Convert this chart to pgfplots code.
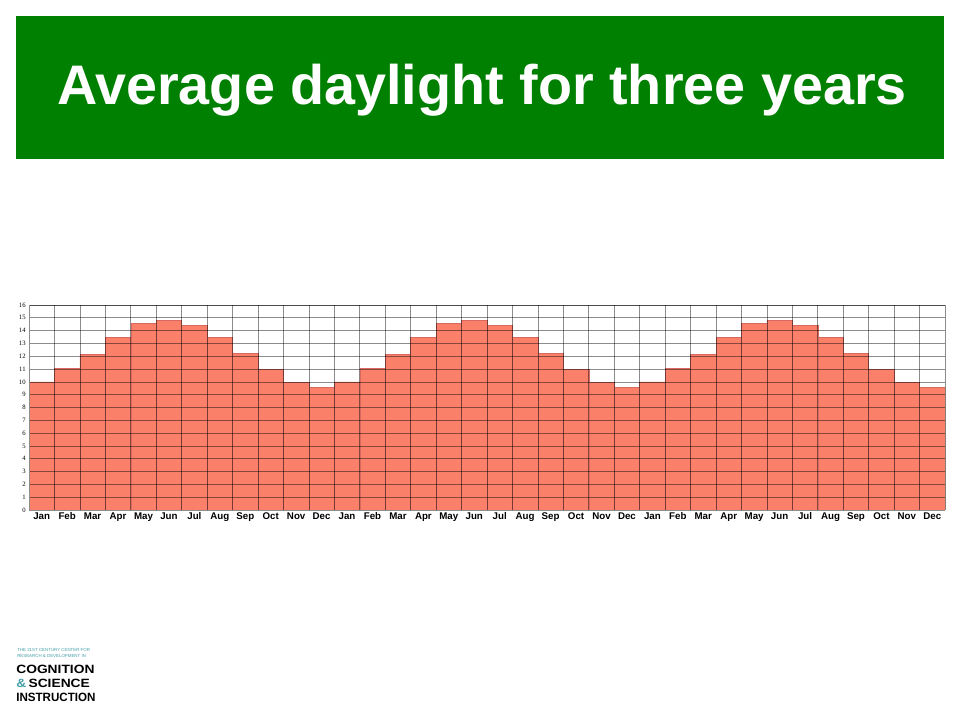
\documentclass[border=0pt]{standalone}
\usepackage{pgfplots}
\pgfplotsset{compat=1.18}
\usepackage{fontspec}
\setmainfont{Liberation Sans}
\newfontfamily\serifnum{Liberation Serif}
\definecolor{banner}{RGB}{0,128,0}
\definecolor{barfill}{RGB}{250,128,106}
\definecolor{baredge}{RGB}{200,40,30}
\definecolor{logoteal}{RGB}{70,160,170}
\pgfplotstableread{
x  hours
0  10.0
1  11.05
2  12.15
3  13.45
4  14.55
5  14.8
6  14.4
7  13.45
8  12.2
9  10.95
10 9.95
11 9.55
12 10.0
13 11.05
14 12.15
15 13.45
16 14.55
17 14.8
18 14.4
19 13.45
20 12.2
21 10.95
22 9.95
23 9.55
24 10.0
25 11.05
26 12.15
27 13.45
28 14.55
29 14.8
30 14.4
31 13.45
32 12.2
33 10.95
34 9.95
35 9.55
}\daylight
\begin{document}
\begin{tikzpicture}[x=0.75pt,y=0.75pt]
% page frame 960x720 px (y up: Y = 720 - y_px)
\fill[white] (0,0) rectangle (960,720);
% banner
\fill[banner] (16,704) rectangle (944,561);
\node[text=white,font=\bfseries\fontsize{41.8}{44}\selectfont,anchor=base] at (482,615) {Average daylight for three years};
% logo
\node[anchor=north west,inner sep=0pt,align=left,text=logoteal,font=\fontsize{3.3}{4.5}\selectfont] at (17,72)
  {THE 21ST CENTURY CENTER FOR\\RESEARCH \& DEVELOPMENT IN};
\node[anchor=north west,inner sep=0pt,align=left,font=\bfseries\fontsize{9}{10.5}\selectfont,xscale=1.15] at (16,55)
  {COGNITION\\\textcolor{logoteal}{\&}\,SCIENCE\\\scalebox{0.84}[1]{INSTRUCTION}};
\begin{axis}[
  at={(21.75pt,157.5pt)}, anchor=south west,
  scale only axis, width=687pt, height=153.75pt,
  xmin=-0.5, xmax=35.5, ymin=0, ymax=16,
  axis on top,
  ybar, bar width=1, bar shift=0pt,
  xtick={0,...,35},
  xticklabels={Jan,Feb,Mar,Apr,May,Jun,Jul,Aug,Sep,Oct,Nov,Dec,Jan,Feb,Mar,Apr,May,Jun,Jul,Aug,Sep,Oct,Nov,Dec,Jan,Feb,Mar,Apr,May,Jun,Jul,Aug,Sep,Oct,Nov,Dec},
  minor xtick={-0.5,0.5,...,35.5},
  ytick={0,...,16},
  xminorgrids, ymajorgrids,
  major tick length=0pt, minor tick length=0pt,
  grid style={black, draw opacity=0.45, line width=0.5pt},
  minor grid style={black, draw opacity=0.45, line width=0.5pt},
  axis line style={black!45, line width=0.5pt},
  axis x line*=bottom, axis y line*=left,
  xticklabel style={font=\bfseries\fontsize{7.3}{8}\selectfont, anchor=base, yshift=-7pt},
  yticklabel style={font=\serifnum\fontsize{5}{6}\selectfont, xshift=1pt},
  /pgf/number format/assume math mode=true,
]
\addplot[fill=barfill, draw=baredge!70, line width=0.4pt] table[x=x,y=hours] {\daylight};
\draw[black!45, line width=0.5pt] (axis cs:-0.5,16) -- (axis cs:35.5,16);
\end{axis}
\end{tikzpicture}
\end{document}
